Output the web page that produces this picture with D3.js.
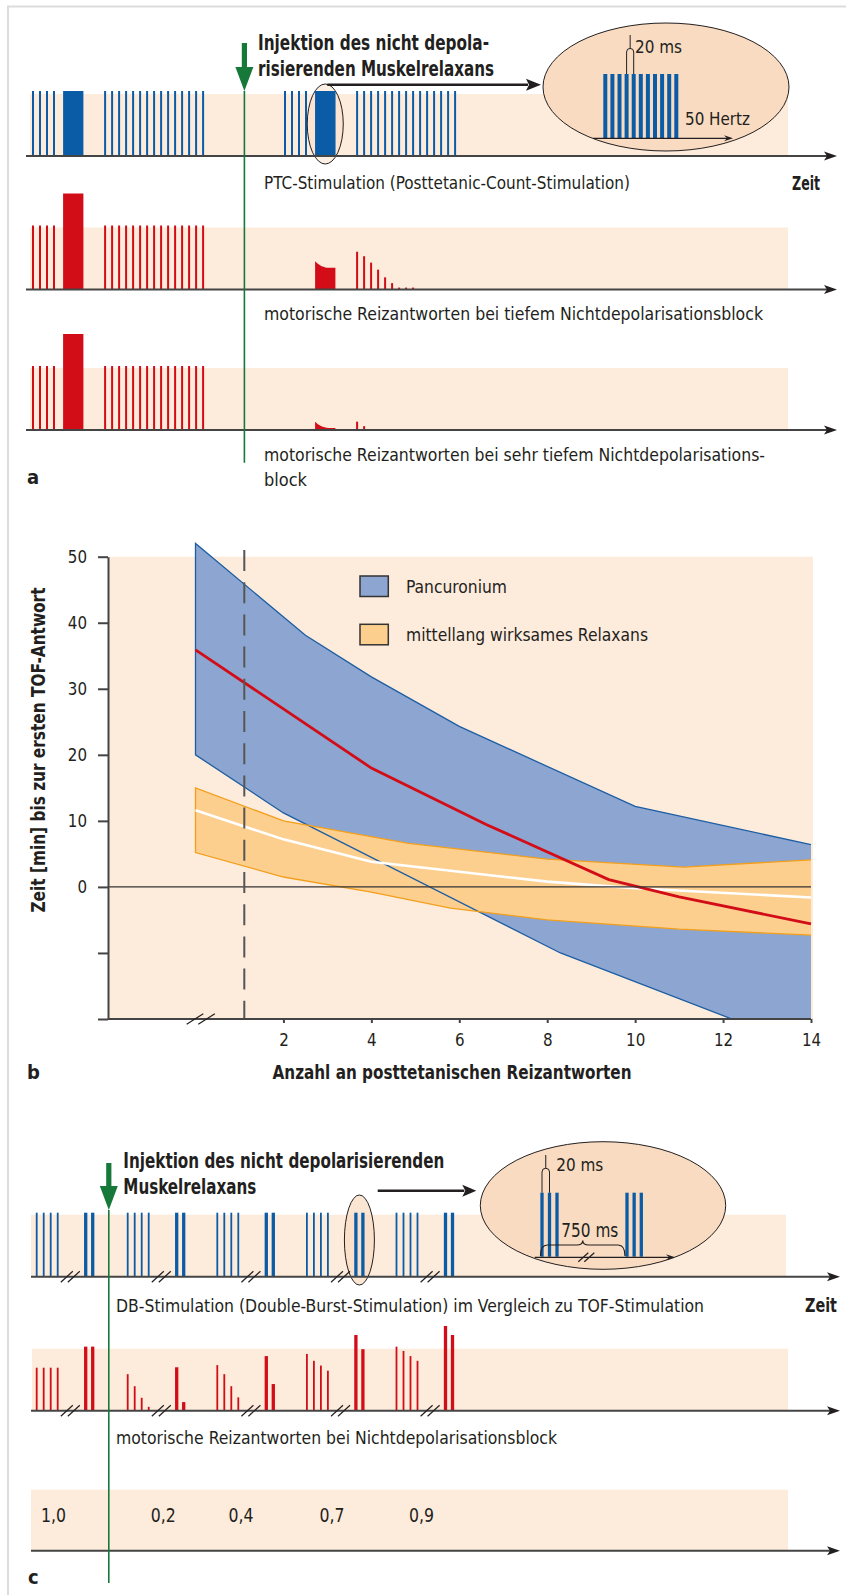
<!DOCTYPE html>
<html>
<head>
<meta charset="utf-8">
<script src="https://cdn.jsdelivr.net/npm/d3@7"></script>
<style>
  body { margin: 0; background: #fff; }
  svg { display: block; }
  text { font-family: "Liberation Sans Narrow", "Arial Narrow", "DejaVu Sans Condensed", sans-serif; fill: #231f20; }
</style>
</head>
<body>
<svg width="846" height="1595"></svg>
<script>
const svg = d3.select('svg');

// colours
const PEACH = '#fdebdc', INSET = '#f8dbc0', BLUE = '#0b5ca6', RED = '#d20d17';
const INK = '#231f20', AXIS = '#444', GREEN = '#16793a';

// ---------- data : panel a (PTC stimulation, time in s) ----------
const aTwitchBefore = [0, 1, 2, 3, 10.3, 11.3, 12.3, 13.3, 14.3, 15.3, 16.3, 17.3, 18.3, 19.3, 20.3, 21.3, 22.3, 23.3, 24.3];
const aTwitchAfter = [36, 37, 38, 39, 46.3, 47.3, 48.3, 49.3, 50.3, 51.3, 52.3, 53.3, 54.3, 55.3, 56.3, 57.3, 58.3, 59.3, 60.3];
const aTetanus = [[4.3, 7.2], [40.3, 43.2]];
const aInjection = 30.2;
const aControlTwitch = 100;   // % of control
const aControlTetanus = 150;
const aDeepAfter = [0, 0, 0, 0, 59, 52, 42, 31, 19, 10, 3, 3, 3, 0, 0, 0, 0, 0, 0];
const aDeepFade = [[40.3, 44], [40.6, 41], [41, 38], [41.5, 35.5], [42, 34], [43.2, 34]];
const aVeryDeepAfter = [0, 0, 0, 0, 13, 6, 0, 0, 0, 0, 0, 0, 0, 0, 0, 0, 0, 0, 0];
const aVeryDeepFade = [[40.3, 13], [40.7, 9], [41.2, 6], [41.8, 4], [42.5, 3], [43.2, 3]];
const aInsetPulses = [0, 20, 40, 60, 80, 100, 120, 140, 160, 180, 200]; // ms, 50 Hz

// ---------- data : panel b ----------
const bTicksX = [2, 4, 6, 8, 10, 12, 14];
const bTicksY = [50, 40, 30, 20, 10, 0, -10, -20];
const pancUpper = [[0, 52], [2.5, 38.1], [4, 31.8], [6, 24.3], [10, 12.2], [14, 6.4]];
const pancLower = [[0, 20], [2, 11.2], [8.3, -10], [12.2, -20], [14, -24.5]];
const pancMean = [[0, 35.9], [4, 18], [6.6, 9.5], [9.4, 1.1], [11, -1.5], [14, -5.6]];
const interUpper = [[0, 15], [2, 10], [4.85, 6.6], [8, 4.2], [11.1, 3.0], [14, 4.1]];
const interLower = [[0, 5.2], [2, 1.5], [4, -0.8], [5.8, -3.2], [8, -5.0], [11, -6.4], [14, -7.3]];
const interMean = [[0, 11.6], [2, 7.2], [4, 3.8], [6, 2.3], [8, 0.8], [10, -0.2], [14, -1.6]];
const bMarkerX = 1.11;
const bLegend = ['Pancuronium', 'mittellang wirksames Relaxans'];

// ---------- data : panel c (DBS vs TOF, time in 0.5 s steps) ----------
const cGroupStart = [0, 13, 25.8, 38.6, 51.4];
const cTofOffsets = [0, 1, 2, 3];
const cDbOffsets = [7, 8];
const cBreakOffset = 4.8;
const cInjection = 10.3;
const cTofResp = [[100, 100, 100, 100], [85, 57, 30, 9], [106, 85, 57, 31], [132, 116, 105, 93], [149, 139, 127, 116]];
const cDbResp = [[149, 149], [101, 20], [127, 62], [176, 143], [197, 176]];
const cRatios = ['1,0', '0,2', '0,4', '0,7', '0,9'];
const cRatioOffsets = [0.6, 3.3, 1.6, 1.8, 1.8];
const cInsetPulses = [0, 20, 40, 750, 770, 790]; // ms

// ---------- helpers ----------
function band(x0, x1, y0, y1, fill) {
  svg.append('rect').attr('x', x0).attr('y', y0).attr('width', x1 - x0).attr('height', y1 - y0).attr('fill', fill || PEACH);
}
function head(x, y, len, half, color) {
  svg.append('path')
    .attr('d', `M${x},${y}L${x - len},${y - half}L${x - len + 3},${y}L${x - len},${y + half}Z`)
    .attr('fill', color || INK);
}
function arrowLine(x0, x1, y, w, len, half) {
  svg.append('line').attr('x1', x0).attr('x2', x1 - len + 2).attr('y1', y).attr('y2', y)
    .attr('stroke', INK).attr('stroke-width', w);
  head(x1, y, len, half);
}
function axisLine(x0, x1, y) {
  svg.append('line').attr('x1', x0).attr('x2', x1 - 10).attr('y1', y).attr('y2', y)
    .attr('stroke', AXIS).attr('stroke-width', 2);
  head(x1, y, 13, 4.5, INK);
}
// width: measured length of the text in the reference (condensed face)
function label(x, y, s, size, weight, anchor, width) {
  const t = svg.append('text').attr('x', x).attr('y', y).text(s)
    .style('font-size', (size || 18.5) + 'px')
    .style('font-weight', weight || 'normal')
    .attr('text-anchor', anchor || 'start');
  if (width) t.attr('textLength', width).attr('lengthAdjust', 'spacingAndGlyphs');
  return t;
}
function breakMark(x, y, hw, hh, gap) {
  [-gap / 2, gap / 2].forEach(o => {
    svg.append('line').attr('x1', x + o - hw).attr('y1', y + hh).attr('x2', x + o + hw).attr('y2', y - hh)
      .attr('stroke', INK).attr('stroke-width', 1.2);
  });
}
function greenArrow(x, yTop, yTip, yEnd) {
  svg.append('line').attr('x1', x).attr('x2', x).attr('y1', yTip).attr('y2', yEnd)
    .attr('stroke', GREEN).attr('stroke-width', 1.6);
  svg.append('rect').attr('x', x - 2.6).attr('y', yTop).attr('width', 5.2).attr('height', yTip - yTop - 20).attr('fill', GREEN);
  svg.append('path').attr('d', `M${x - 9},${yTip - 24}L${x + 9},${yTip - 24}L${x},${yTip}Z`).attr('fill', GREEN);
}
function bar(x, base, h, w, color) {
  if (h <= 0) return;
  svg.append('rect').attr('x', x - w / 2).attr('y', base - h).attr('width', w).attr('height', h).attr('fill', color);
}

// frame
svg.append('path').attr('d', 'M8,1595V6.5H846').attr('fill', 'none').attr('stroke', '#dcdcdc').attr('stroke-width', 2);

// ================= panel a =================
const xA = d3.scaleLinear().domain([0, 110]).range([33, 803]);
const ampA = d3.scaleLinear().domain([0, 100]).range([0, 64]);
const aRows = [156, 289.5, 430];

aRows.forEach(base => band(30, 788, base - 62, base));

// stimulation row
const stimBase = aRows[0];
aTwitchBefore.concat(aTwitchAfter).forEach(t => bar(xA(t), stimBase, 65, 2, BLUE));
aTetanus.forEach(([t0, t1]) => {
  svg.append('rect').attr('x', xA(t0)).attr('y', stimBase - 65).attr('width', xA(t1) - xA(t0)).attr('height', 65).attr('fill', BLUE);
});

// ellipse around the second tetanus
const tetMid = (xA(aTetanus[1][0]) + xA(aTetanus[1][1])) / 2;
svg.append('ellipse').attr('cx', tetMid).attr('cy', stimBase - 32).attr('rx', 18).attr('ry', 40)
  .attr('fill', INSET).attr('fill-opacity', 0.45).attr('stroke', INK).attr('stroke-width', 1);
svg.append('rect').attr('x', xA(aTetanus[1][0])).attr('y', stimBase - 65).attr('width', xA(aTetanus[1][1]) - xA(aTetanus[1][0])).attr('height', 65).attr('fill', BLUE);
arrowLine(tetMid + 2, 541, 84.7, 2.6, 15, 6);

// response rows
function responseRow(base, after, fade) {
  aTwitchBefore.forEach(t => bar(xA(t), base, ampA(aControlTwitch), 2, RED));
  const t0 = aTetanus[0];
  svg.append('rect').attr('x', xA(t0[0])).attr('y', base - ampA(aControlTetanus)).attr('width', xA(t0[1]) - xA(t0[0])).attr('height', ampA(aControlTetanus)).attr('fill', RED);
  aTwitchAfter.forEach((t, i) => bar(xA(t), base, ampA(after[i]), 2, RED));
  const area = d3.area().x(d => xA(d[0])).y0(base).y1(d => base - ampA(d[1])).curve(d3.curveMonotoneX);
  svg.append('path').attr('d', area(fade)).attr('fill', RED);
}
responseRow(aRows[1], aDeepAfter, aDeepFade);
responseRow(aRows[2], aVeryDeepAfter, aVeryDeepFade);

aRows.forEach(base => axisLine(26, 837, base));

// inset (50 Hz tetanus)
svg.append('ellipse').attr('cx', 666).attr('cy', 87).attr('rx', 123).attr('ry', 64)
  .attr('fill', INSET).attr('stroke', INK).attr('stroke-width', 1);
const xInA = d3.scaleLinear().domain([0, 200]).range([605.3, 676.3]);
aInsetPulses.forEach(p => bar(xInA(p), 138, 64, 4, BLUE));
svg.append('line').attr('x1', 593).attr('x2', 728).attr('y1', 138.3).attr('y2', 138.3).attr('stroke', INK).attr('stroke-width', 1.3);
head(733, 138.3, 9, 3);
svg.append('path')
  .attr('d', `M${xInA(60)},74V52a3,3 0 0 1 ${xInA(80) - xInA(60)},0V74M${(xInA(60) + xInA(80)) / 2},49V35`)
  .attr('fill', 'none').attr('stroke', INK).attr('stroke-width', 1);
label(635, 53, '20 ms', 18.5, null, null, 47);
label(685, 125, '50 Hertz', 18.5, null, null, 65);

greenArrow(xA(aInjection), 43, 91, 462.7);

label(258, 49.5, 'Injektion des nicht depola-', 20.5, 'bold', null, 231);
label(258, 76, 'risierenden Muskelrelaxans', 20.5, 'bold', null, 236);
label(264, 189.3, 'PTC-Stimulation (Posttetanic-Count-Stimulation)', 18.5, null, null, 366);
label(792, 189.5, 'Zeit', 19.5, 'bold', null, 28);
label(264, 320, 'motorische Reizantworten bei tiefem Nichtdepolarisationsblock', 18.5, null, null, 499);
label(264, 460.7, 'motorische Reizantworten bei sehr tiefem Nichtdepolarisations-', 18.5, null, null, 501);
label(264, 485.7, 'block', 18.5, null, null, 43);
label(27, 483.5, 'a', 20, 'bold');

// ================= panel b =================
const xB = d3.scaleLinear().domain([0, 14]).range([195.5, 811]);
const yB = d3.scaleLinear().domain([-20, 50]).range([1019, 556.7]);

band(108, 813, yB(50), yB(-20));

svg.append('clipPath').attr('id', 'clipB').append('rect').attr('x', 108).attr('y', 520).attr('width', 704).attr('height', yB(-20) - 520);
const plot = svg.append('g').attr('clip-path', 'url(#clipB)');
const line = d3.line().x(d => xB(d[0])).y(d => yB(d[1]));
const outline = (up, lo) => up.slice().reverse().concat(lo);

plot.append('path').attr('d', line(outline(pancUpper, pancLower)) + 'Z').attr('fill', '#8da5d1');
plot.append('path').attr('d', line(outline(interUpper, interLower)) + 'Z').attr('fill', '#fccf8f');
plot.append('path').attr('d', line(outline(pancUpper, pancLower))).attr('fill', 'none').attr('stroke', '#1c5ea3').attr('stroke-width', 1.3);
plot.append('path').attr('d', line(outline(interUpper, interLower))).attr('fill', 'none').attr('stroke', '#f29f1c').attr('stroke-width', 1.3);
plot.append('path').attr('d', line(interMean)).attr('fill', 'none').attr('stroke', '#fff').attr('stroke-width', 2.6);
plot.append('path').attr('d', line(pancMean)).attr('fill', 'none').attr('stroke', RED).attr('stroke-width', 2.8);

svg.append('line').attr('x1', 108).attr('x2', 811).attr('y1', yB(0)).attr('y2', yB(0)).attr('stroke', '#333').attr('stroke-width', 1.3);
svg.append('line').attr('x1', xB(bMarkerX)).attr('x2', xB(bMarkerX)).attr('y1', 550).attr('y2', yB(-20))
  .attr('stroke', '#555').attr('stroke-width', 2).attr('stroke-dasharray', '21,11.2');

const yAxis = svg.append('g').attr('transform', 'translate(108,0)')
  .call(d3.axisLeft(yB).tickValues(bTicksY).tickSize(10).tickSizeOuter(0).tickPadding(11)
    .tickFormat(d => (d >= 0 ? d : '')));
const xAxis = svg.append('g').attr('transform', `translate(0,${yB(-20)})`)
  .call(d3.axisBottom(xB).tickValues(bTicksX).tickSize(4).tickSizeOuter(0).tickPadding(10));
xAxis.select('.domain').remove();
svg.append('line').attr('x1', 108).attr('x2', 811).attr('y1', yB(-20)).attr('y2', yB(-20)).attr('stroke', AXIS).attr('stroke-width', 2);
[yAxis, xAxis].forEach(g => {
  g.selectAll('.domain, .tick line').attr('stroke', AXIS).attr('stroke-width', 2);
  g.selectAll('text').style('font-size', '18.5px').attr('fill', INK)
    .attr('textLength', function () { return this.textContent.length * 9.6; })
    .attr('lengthAdjust', 'spacingAndGlyphs');
});
breakMark(xB(0.12), yB(-20), 8.3, 5.3, 11.6);

// legend
[['#8da5d1', 576, 101], ['#fccf8f', 624.3, 242]].forEach(([c, y, w], i) => {
  svg.append('rect').attr('x', 360).attr('y', y).attr('width', 28.3).attr('height', 20.5)
    .attr('fill', c).attr('stroke', '#333').attr('stroke-width', 1.5);
  label(406, y + 16.5, bLegend[i], 18.5, null, null, w);
});

label(452, 1079.3, 'Anzahl an posttetanischen Reizantworten', 20, 'bold', 'middle', 359);
label(27, 1079.3, 'b', 20, 'bold');
label(0, 0, 'Zeit [min] bis zur ersten TOF-Antwort', 20, 'bold', 'middle', 325)
  .attr('transform', 'translate(45,750) rotate(-90)');

// ================= panel c =================
const xC = d3.scaleLinear().domain([0, 110]).range([36.7, 806.7]);
const ampC = d3.scaleLinear().domain([0, 100]).range([0, 43]);
const cStimBase = 1276.7, cRespBase = 1410.7, cRatioBase = 1550.7;

band(31, 786, cStimBase - 62, cStimBase);
band(32, 788, cRespBase - 62, cRespBase);
band(31, 788, cRatioBase - 61, cRatioBase);

cGroupStart.forEach((g, gi) => {
  cTofOffsets.forEach((o, i) => {
    bar(xC(g + o), cStimBase, 64, 1.8, BLUE);
    bar(xC(g + o), cRespBase, ampC(cTofResp[gi][i]), 1.8, RED);
  });
  cDbOffsets.forEach((o, i) => {
    bar(xC(g + o), cRespBase, ampC(cDbResp[gi][i]), 3.3, RED);
  });
});

// ellipse around fourth double burst
const dbMid = (xC(cGroupStart[3] + cDbOffsets[0]) + xC(cGroupStart[3] + cDbOffsets[1])) / 2;
svg.append('ellipse').attr('cx', dbMid).attr('cy', 1240).attr('rx', 15).attr('ry', 45)
  .attr('fill', INSET).attr('fill-opacity', 0.7).attr('stroke', INK).attr('stroke-width', 1);
cGroupStart.forEach(g => cDbOffsets.forEach(o => bar(xC(g + o), cStimBase, 64, 3.3, BLUE)));

axisLine(31, 840, cStimBase);
axisLine(31, 840, cRespBase);
axisLine(31, 840, cRatioBase);
cGroupStart.forEach(g => {
  breakMark(xC(g + cBreakOffset), cStimBase, 6, 5.5, 7);
  breakMark(xC(g + cBreakOffset), cRespBase, 6, 5.5, 7);
});

cRatios.forEach((r, i) => label(xC(cGroupStart[i] + cRatioOffsets[i]), 1522.3, r, 20, null, null, 25));

// inset (double burst)
svg.append('ellipse').attr('cx', 603).attr('cy', 1205.5).attr('rx', 122.7).attr('ry', 63.8)
  .attr('fill', INSET).attr('stroke', INK).attr('stroke-width', 1);
const xInC = d3.scaleLinear().domain([0, 40, 750, 790]).range([542, 557, 627, 641.3]);
cInsetPulses.forEach(p => bar(xInC(p), 1256.7, 64, 3.3, BLUE));
svg.append('line').attr('x1', 534.7).attr('x2', 669).attr('y1', 1257.3).attr('y2', 1257.3).attr('stroke', INK).attr('stroke-width', 1.3);
head(675, 1257.3, 9, 3);
breakMark(586.3, 1257.3, 5, 4.5, 6);
const b0 = xInC(0) - 1.5, b1 = xInC(750) - 2, bm = (b0 + b1) / 2;
svg.append('path')
  .attr('d', `M${b0},1256Q${b0},1245 ${b0 + 7},1245H${bm - 6}Q${bm},1245 ${bm},1240.5Q${bm},1245 ${bm + 6},1245H${b1 - 7}Q${b1},1245 ${b1},1256`)
  .attr('fill', 'none').attr('stroke', INK).attr('stroke-width', 1.2);
svg.append('path')
  .attr('d', `M${xInC(0)},1192.7V1172a3.5,3.5 0 0 1 ${xInC(20) - xInC(0)},0V1192.7M${(xInC(0) + xInC(20)) / 2},1168.5V1155`)
  .attr('fill', 'none').attr('stroke', INK).attr('stroke-width', 1);
label(556.3, 1170.7, '20 ms', 18.5, null, null, 47);
label(561.3, 1236.7, '750 ms', 19, null, null, 57);

arrowLine(377.7, 476.3, 1190.7, 2.6, 14, 6);
greenArrow(xC(cInjection), 1163, 1210, 1583);

label(123.3, 1168.3, 'Injektion des nicht depolarisierenden', 20.5, 'bold', null, 321);
label(123.3, 1194, 'Muskelrelaxans', 20.5, 'bold', null, 133);
label(116, 1311.7, 'DB-Stimulation (Double-Burst-Stimulation) im Vergleich zu TOF-Stimulation', 18.5, null, null, 588);
label(805, 1311.7, 'Zeit', 19.5, 'bold', null, 32);
label(116, 1444, 'motorische Reizantworten bei Nichtdepolarisationsblock', 18.5, null, null, 441);
label(28, 1584, 'c', 20, 'bold');
</script>
</body>
</html>
